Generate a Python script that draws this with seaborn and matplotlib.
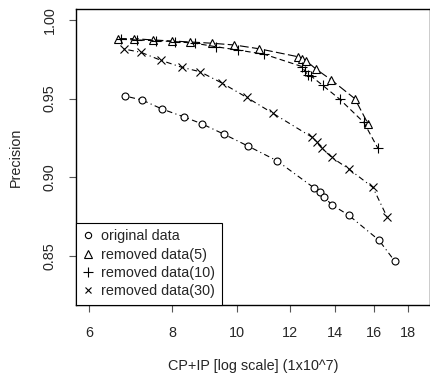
import matplotlib
matplotlib.use("Agg")
import matplotlib.pyplot as plt
import numpy as np
import pandas as pd
import seaborn as sns
from matplotlib.lines import Line2D
from matplotlib.ticker import FixedLocator, NullLocator, FixedFormatter

# Data (x in units of 1x10^7, log scale)
orig_x = [6.80, 7.21, 7.72, 8.31, 8.84, 9.56, 10.39, 11.46, 13.03, 13.30, 13.45, 13.86, 14.66, 16.27, 17.17]
orig_y = [0.9516, 0.9490, 0.9433, 0.9384, 0.9340, 0.9272, 0.9196, 0.9104, 0.8930, 0.8906, 0.8875, 0.8822, 0.8758, 0.8599, 0.8467]

rm5_x = [6.63, 7.01, 7.48, 8.00, 8.51, 9.16, 9.89, 10.77, 12.32, 12.49, 12.68, 13.12, 13.82, 14.98, 15.69]
rm5_y = [0.9881, 0.9881, 0.9873, 0.9866, 0.9860, 0.9852, 0.9841, 0.9817, 0.9766, 0.9753, 0.9739, 0.9686, 0.9618, 0.9499, 0.9336]

rm10_x = [6.71, 7.07, 7.55, 8.08, 8.64, 9.28, 10.01, 10.97, 12.50, 12.61, 12.75, 12.89, 13.41, 14.21, 15.45, 16.22]
rm10_y = [0.9877, 0.9873, 0.9868, 0.9862, 0.9852, 0.9830, 0.9809, 0.9782, 0.9703, 0.9675, 0.9650, 0.9643, 0.9584, 0.9497, 0.9348, 0.9183]

rm30_x = [6.77, 7.18, 7.69, 8.26, 8.79, 9.50, 10.32, 11.30, 12.94, 13.15, 13.38, 13.84, 14.68, 15.94, 16.75]
rm30_y = [0.9815, 0.9794, 0.9743, 0.9699, 0.9671, 0.9597, 0.9508, 0.9406, 0.9253, 0.9221, 0.9183, 0.9125, 0.9051, 0.8934, 0.8743]

labels = ["original data", "removed data(5)", "removed data(10)", "removed data(30)"]
x_ticks = [6, 8, 10, 12, 14, 16, 18]
y_ticks = [0.85, 0.90, 0.95, 1.00]

series = [
    (labels[0], orig_x, orig_y, "o", 5, (0, (1, 3, 5, 3))),
    (labels[1], rm5_x, rm5_y, "^", 6, (0, (8, 3))),
    (labels[2], rm10_x, rm10_y, "+", 7, (0, (5, 3))),
    (labels[3], rm30_x, rm30_y, "x", 5.5, (0, (1, 3, 5, 3))),
]

sns.set_style("ticks")
plt.rcParams["font.family"] = ["Liberation Sans", "DejaVu Sans"]
fs = 10.4

fig = plt.figure(figsize=(4.31, 3.79), dpi=100)
ax = fig.add_axes([0.1763, 0.1953, 0.8214, 0.781])

handles = []
for name, xs, ys, mk, ms, ls in series:
    df = pd.DataFrame({"x": xs, "y": ys})
    sns.lineplot(data=df, x="x", y="y", ax=ax, sort=False, color="black",
                 linewidth=0.8, linestyle=ls, marker=mk, markersize=ms,
                 markerfacecolor="white", markeredgecolor="black",
                 markeredgewidth=0.8)
    handles.append(Line2D([], [], linestyle="none", marker=mk, markersize=ms - 0.5,
                          markerfacecolor="white", markeredgecolor="black",
                          markeredgewidth=0.8, color="black", label=name))

ax.set_xscale("log")
ax.set_xlim(5.74, 19.4)
ax.set_ylim(0.8186, 1.007)
ax.xaxis.set_major_locator(FixedLocator(x_ticks))
ax.xaxis.set_major_formatter(FixedFormatter([str(t) for t in x_ticks]))
ax.xaxis.set_minor_locator(NullLocator())
ax.set_yticks(y_ticks)
ax.set_yticklabels([f"{t:.2f}" for t in y_ticks], rotation=90, va="center")

ax.tick_params(direction="out", length=5, width=0.8, color="#555555",
               labelsize=fs)
ax.tick_params(axis="x", pad=10)
ax.tick_params(axis="y", pad=9)
for sp in ax.spines.values():
    sp.set_visible(True)
    sp.set_linewidth(1.0)
    sp.set_color("black")

ax.set_xlabel("CP+IP [log scale] (1x10^7)", fontsize=fs, labelpad=14)
ax.set_ylabel("Precision", fontsize=fs, labelpad=14)

leg = ax.legend(handles=handles, loc="lower left", borderaxespad=0,
                frameon=True, fancybox=False, framealpha=1, edgecolor="black",
                fontsize=fs, handlelength=0.8, handletextpad=0.5,
                labelspacing=0.3, borderpad=0.45)
leg.get_frame().set_linewidth(0.8)

fig.savefig("out.png", dpi=100)
